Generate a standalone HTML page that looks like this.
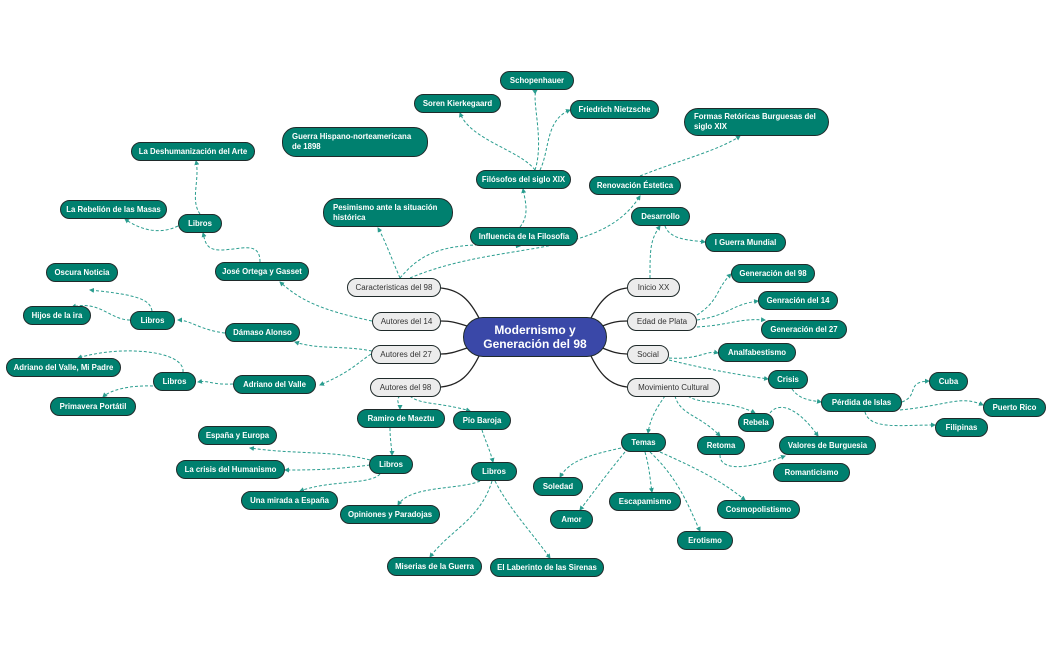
<!DOCTYPE html>
<html><head><meta charset="utf-8"><style>
body{margin:0;width:1051px;height:650px;background:#fff;position:relative;overflow:hidden;font-family:"Liberation Sans",sans-serif}
.n{position:absolute;box-sizing:border-box;border:1.5px solid #1f2a2a;border-radius:10px;background:#00806f;color:#fff;font-size:7.8px;font-weight:bold;display:flex;align-items:center;justify-content:center;white-space:nowrap;line-height:10px}
.g{background:#ececec;color:#333;font-weight:normal;font-size:8px}
.l{justify-content:flex-start;padding-left:9px;white-space:normal;border-radius:14px}
svg{position:absolute;left:0;top:0}
.d{fill:none;stroke:#2a9d8f;stroke-width:1;stroke-dasharray:3 2}
.s{fill:none;stroke:#222;stroke-width:1.3}
</style></head><body>
<svg width="1051" height="650">
<defs><marker id="a" markerWidth="5" markerHeight="5" refX="4" refY="2.5" orient="auto"><path d="M0 0L5 2.5L0 5z" fill="#2a9d8f"/></marker></defs>
<g class="s">
<path d="M480 320 C470 300 460 290 441 288"/>
<path d="M470 327 C455 322 450 321 441 321"/>
<path d="M470 347 C455 352 450 354 441 354"/>
<path d="M480 354 C470 375 460 385 441 387"/>
<path d="M590 320 C600 300 610 290 627 288"/>
<path d="M600 327 C612 322 618 321 627 321"/>
<path d="M600 347 C612 352 618 354 627 354"/>
<path d="M590 354 C600 375 610 385 627 387"/>
</g>
<g class="d" marker-end="url(#a)">
<path d="M400 278 C390 255 385 240 378 228"/>
<path d="M400 278 C420 255 440 240 520 246"/>
<path d="M410 278 C500 240 600 260 640 196"/>
<path d="M520 227 C530 215 525 200 523 189"/>
<path d="M535 170 C520 150 470 140 460 113"/>
<path d="M535 170 C545 140 530 95 537 90"/>
<path d="M540 170 C550 150 545 120 570 110"/>
<path d="M640 176 C680 160 720 150 740 136"/>
<path d="M650 278 C650 250 650 240 660 226"/>
<path d="M665 226 C670 240 690 240 705 242"/>
<path d="M697 315 C720 300 715 290 731 274"/>
<path d="M697 320 C730 315 730 305 758 301"/>
<path d="M697 327 C730 325 740 318 765 320"/>
<path d="M669 358 C700 360 705 350 718 353"/>
<path d="M669 360 C710 370 740 375 768 379"/>
<path d="M792 389 C800 400 810 400 821 402"/>
<path d="M902 402 C920 395 905 382 929 381"/>
<path d="M900 410 C950 405 960 395 983 405"/>
<path d="M865 412 C870 430 900 425 935 425"/>
<path d="M665 396 C655 410 650 420 648 433"/>
<path d="M675 396 C680 415 700 415 720 436"/>
<path d="M688 396 C700 405 730 400 755 413"/>
<path d="M770 413 C780 400 800 410 818 436"/>
<path d="M720 455 C720 475 760 465 785 456"/>
<path d="M621 448 C590 455 570 460 560 477"/>
<path d="M625 452 C610 470 595 490 580 510"/>
<path d="M645 452 C650 470 650 480 652 492"/>
<path d="M650 452 C680 480 690 510 700 531"/>
<path d="M660 452 C700 470 720 480 745 500"/>
<path d="M260 262 C260 240 240 250 220 250 C205 250 205 240 203 233"/>
<path d="M200 214 C190 200 200 180 196 161"/>
<path d="M178 226 C160 235 140 230 125 219"/>
<path d="M372 321 C320 310 300 300 280 282"/>
<path d="M225 333 C200 330 190 320 178 320"/>
<path d="M152 311 C150 300 140 295 90 290"/>
<path d="M130 320 C110 320 100 300 72 307"/>
<path d="M372 351 C340 345 320 350 295 342"/>
<path d="M233 384 C210 385 210 380 198 382"/>
<path d="M183 372 C185 350 120 345 78 358"/>
<path d="M153 386 C130 385 110 390 103 397"/>
<path d="M371 354 C355 365 350 372 320 385"/>
<path d="M400 396 C395 400 400 405 400 409"/>
<path d="M410 396 C420 405 440 402 470 411"/>
<path d="M390 428 C390 440 392 450 392 455"/>
<path d="M370 460 C330 450 300 455 250 448"/>
<path d="M370 465 C330 470 310 470 285 470"/>
<path d="M380 474 C370 485 330 480 300 491"/>
<path d="M482 430 C485 440 490 450 493 462"/>
<path d="M480 481 C460 490 410 485 398 505"/>
<path d="M492 481 C480 520 450 530 430 557"/>
<path d="M495 481 C510 510 530 530 550 558"/>
</g>
</svg>
<div class="n" style="left:463px;top:317px;width:144px;height:40px;background:#3a48a8;border-radius:20px;font-size:12px;line-height:14px;text-align:center;white-space:normal">Modernismo y Generación del 98</div>
<div class="n g" style="left:347px;top:278px;width:94px;height:19px">Caracteristicas del 98</div>
<div class="n g" style="left:372px;top:312px;width:69px;height:19px">Autores del 14</div>
<div class="n g" style="left:371px;top:345px;width:70px;height:19px">Autores del 27</div>
<div class="n g" style="left:370px;top:378px;width:71px;height:19px">Autores del 98</div>
<div class="n g" style="left:627px;top:278px;width:53px;height:19px">Inicio XX</div>
<div class="n g" style="left:627px;top:312px;width:70px;height:19px">Edad de Plata</div>
<div class="n g" style="left:627px;top:345px;width:42px;height:19px">Social</div>
<div class="n g" style="left:627px;top:378px;width:93px;height:19px">Movimiento Cultural</div>
<div class="n" style="left:500px;top:71px;width:74px;height:19px">Schopenhauer</div>
<div class="n" style="left:414px;top:94px;width:87px;height:19px">Soren Kierkegaard</div>
<div class="n" style="left:570px;top:100px;width:89px;height:19px">Friedrich Nietzsche</div>
<div class="n l" style="left:684px;top:108px;width:145px;height:28px">Formas Retóricas Burguesas del siglo XIX</div>
<div class="n" style="left:131px;top:142px;width:124px;height:19px">La Deshumanización del Arte</div>
<div class="n l" style="left:282px;top:127px;width:146px;height:30px">Guerra Hispano-norteamericana<br>de 1898</div>
<div class="n" style="left:476px;top:170px;width:95px;height:19px">Filósofos del siglo XIX</div>
<div class="n" style="left:589px;top:176px;width:92px;height:19px">Renovación Éstetica</div>
<div class="n l" style="left:323px;top:198px;width:130px;height:29px">Pesimismo ante la situación histórica</div>
<div class="n" style="left:631px;top:207px;width:59px;height:19px">Desarrollo</div>
<div class="n" style="left:60px;top:200px;width:107px;height:19px">La Rebelión de las Masas</div>
<div class="n" style="left:178px;top:214px;width:44px;height:19px">Libros</div>
<div class="n" style="left:470px;top:227px;width:108px;height:19px">Influencia de la Filosofía</div>
<div class="n" style="left:705px;top:233px;width:81px;height:19px">I Guerra Mundial</div>
<div class="n" style="left:215px;top:262px;width:94px;height:19px">José Ortega y Gasset</div>
<div class="n" style="left:46px;top:263px;width:72px;height:19px">Oscura Noticia</div>
<div class="n" style="left:731px;top:264px;width:84px;height:19px">Generación del 98</div>
<div class="n" style="left:23px;top:306px;width:68px;height:19px">Hijos de la ira</div>
<div class="n" style="left:130px;top:311px;width:45px;height:19px">Libros</div>
<div class="n" style="left:225px;top:323px;width:75px;height:19px">Dámaso Alonso</div>
<div class="n" style="left:758px;top:291px;width:80px;height:19px">Genración del 14</div>
<div class="n" style="left:761px;top:320px;width:86px;height:19px">Generación del 27</div>
<div class="n" style="left:718px;top:343px;width:78px;height:19px">Analfabestismo</div>
<div class="n" style="left:6px;top:358px;width:115px;height:19px">Adriano del Valle, Mi Padre</div>
<div class="n" style="left:153px;top:372px;width:43px;height:19px">Libros</div>
<div class="n" style="left:233px;top:375px;width:83px;height:19px">Adriano del Valle</div>
<div class="n" style="left:768px;top:370px;width:40px;height:19px">Crisis</div>
<div class="n" style="left:50px;top:397px;width:86px;height:19px">Primavera Portátil</div>
<div class="n" style="left:821px;top:393px;width:81px;height:19px">Pérdida de Islas</div>
<div class="n" style="left:929px;top:372px;width:39px;height:19px">Cuba</div>
<div class="n" style="left:983px;top:398px;width:63px;height:19px">Puerto Rico</div>
<div class="n" style="left:935px;top:418px;width:53px;height:19px">Filipinas</div>
<div class="n" style="left:357px;top:409px;width:88px;height:19px">Ramiro de Maeztu</div>
<div class="n" style="left:453px;top:411px;width:58px;height:19px">Pío Baroja</div>
<div class="n" style="left:738px;top:413px;width:36px;height:19px">Rebela</div>
<div class="n" style="left:198px;top:426px;width:79px;height:19px">España y Europa</div>
<div class="n" style="left:621px;top:433px;width:45px;height:19px">Temas</div>
<div class="n" style="left:697px;top:436px;width:48px;height:19px">Retoma</div>
<div class="n" style="left:779px;top:436px;width:97px;height:19px">Valores de Burguesia</div>
<div class="n" style="left:369px;top:455px;width:44px;height:19px">Libros</div>
<div class="n" style="left:176px;top:460px;width:109px;height:19px">La crisis del Humanismo</div>
<div class="n" style="left:471px;top:462px;width:46px;height:19px">Libros</div>
<div class="n" style="left:773px;top:463px;width:77px;height:19px">Romanticismo</div>
<div class="n" style="left:533px;top:477px;width:50px;height:19px">Soledad</div>
<div class="n" style="left:241px;top:491px;width:97px;height:19px">Una mirada a España</div>
<div class="n" style="left:609px;top:492px;width:72px;height:19px">Escapamismo</div>
<div class="n" style="left:717px;top:500px;width:83px;height:19px">Cosmopolistismo</div>
<div class="n" style="left:340px;top:505px;width:100px;height:19px">Opiniones y Paradojas</div>
<div class="n" style="left:550px;top:510px;width:43px;height:19px">Amor</div>
<div class="n" style="left:677px;top:531px;width:56px;height:19px">Erotismo</div>
<div class="n" style="left:387px;top:557px;width:95px;height:19px">Miserias de la Guerra</div>
<div class="n" style="left:490px;top:558px;width:114px;height:19px">El Laberinto de las Sirenas</div>
</body></html>
